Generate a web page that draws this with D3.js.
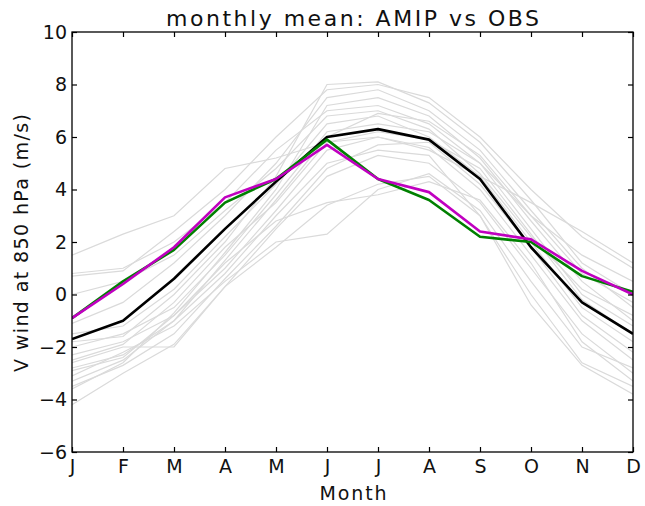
<!DOCTYPE html>
<html>
<head>
<meta charset="utf-8">
<script src="https://cdn.jsdelivr.net/npm/d3@7"></script>
<style>
  html, body { margin: 0; padding: 0; background: #fff; }
  svg { display: block; font-family: "DejaVu Sans", sans-serif; }
</style>
</head>
<body>
<svg id="chart" width="645" height="506"></svg>
<script>
// ---- data ----
const months = ["J","F","M","A","M","J","J","A","S","O","N","D"];
const yTicks = [-6,-4,-2,0,2,4,6,8,10];

const obs   = [-1.7, -1.0, 0.6, 2.5, 4.3, 6.0, 6.3, 5.9, 4.4, 1.8, -0.3, -1.5];
const amipA = [-0.9, 0.5, 1.7, 3.5, 4.4, 5.9, 4.4, 3.6, 2.2, 2.0, 0.7, 0.1];   // green
const amipB = [-0.9, 0.4, 1.8, 3.7, 4.4, 5.7, 4.4, 3.9, 2.4, 2.1, 0.9, 0.0];   // magenta

const model01 = [1.5, 2.3, 3.0, 4.8, 5.2, 5.8, 6.0, 5.5, 4.5, 3.5, 2.4, 1.2];
const model02 = [0.8, 1.0, 2.0, 3.5, 5.5, 7.0, 7.2, 6.5, 5.0, 3.0, 1.5, 0.5];
const model03 = [0.7, 0.9, 2.4, 4.0, 6.0, 7.8, 8.0, 7.5, 6.0, 4.0, 2.2, 1.0];
const model04 = [-1.1, -0.3, 1.2, 3.0, 5.0, 7.5, 7.8, 7.0, 5.5, 3.2, 1.0, -0.5];
const model05 = [-1.5, -1.2, 0.2, 2.2, 4.2, 6.5, 6.8, 6.0, 4.5, 2.0, -0.5, -1.8];
const model06 = [-2.0, -1.5, -0.5, 1.5, 3.8, 6.2, 6.5, 6.2, 5.0, 2.5, 0.0, -1.2];
const model07 = [-2.3, -1.8, -0.8, 1.0, 3.2, 5.5, 6.0, 5.6, 4.0, 1.5, -1.0, -2.5];
const model08 = [-2.6, -2.0, -2.0, 0.3, 2.5, 4.5, 5.3, 5.0, 3.5, 1.0, -1.5, -3.0];
const model09 = [-2.9, -2.4, -0.8, 1.2, 2.8, 3.5, 3.8, 4.3, 3.6, 1.2, -1.8, -3.3];
const model10 = [-3.1, -2.2, -1.2, 0.5, 2.0, 2.3, 4.0, 4.6, 3.2, 0.5, -2.0, -2.8];
const model11 = [-3.3, -2.5, -1.0, 0.8, 3.0, 5.0, 5.5, 5.3, 3.0, 0.0, -2.6, -3.5];
const model12 = [-3.5, -2.7, -1.5, 0.6, 2.6, 4.8, 5.7, 5.8, 4.2, 1.8, -0.8, -2.2];
const model13 = [-3.6, -2.6, -0.7, 1.6, 4.0, 7.2, 7.5, 6.8, 5.2, 2.8, 0.5, -1.0];
const model14 = [-4.2, -3.0, -1.9, 0.3, 1.8, 3.4, 4.2, 4.5, 3.0, -0.4, -2.7, -3.8];
const model15 = [-1.8, -1.6, 0.0, 2.0, 4.5, 8.0, 8.1, 7.3, 5.8, 3.6, 1.2, 0.0];
const model16 = [-2.5, -1.9, -0.3, 1.8, 3.5, 5.8, 6.2, 5.9, 4.8, 2.3, -0.2, -1.5];
const model17 = [0.0, 0.5, 1.5, 3.2, 4.8, 6.8, 7.0, 6.3, 4.6, 2.2, 0.2, -0.8];
const model18 = [-2.8, -2.3, -1.0, 1.3, 3.6, 6.0, 6.9, 6.6, 5.3, 3.0, 0.8, -0.3];

const models = [model01, model02, model03, model04, model05, model06, model07, model08, model09,
                model10, model11, model12, model13, model14, model15, model16, model17, model18];

// ---- layout ----
const svg = d3.select("#chart");
const L = 72, R = 633, T = 32, B = 452;

const x = d3.scaleLinear().domain([0, 11]).range([L, R]);
const y = d3.scaleLinear().domain([-6, 10]).range([B, T]);

const line = d3.line().x((d, i) => x(i)).y(d => y(d));

const plot = svg.append("g");
plot.append("defs").append("clipPath").attr("id", "clip")
  .append("rect").attr("x", L).attr("y", T).attr("width", R - L).attr("height", B - T);

const lines = plot.append("g").attr("clip-path", "url(#clip)");
models.forEach(m => {
  lines.append("path").attr("d", line(m)).attr("fill", "none")
    .attr("stroke", "#dadada").attr("stroke-width", 1.2);
});
lines.append("path").attr("d", line(obs)).attr("fill", "none")
  .attr("stroke", "#000").attr("stroke-width", 2.6).attr("stroke-linejoin", "round");
lines.append("path").attr("d", line(amipA)).attr("fill", "none")
  .attr("stroke", "#008000").attr("stroke-width", 2.6).attr("stroke-linejoin", "round");
lines.append("path").attr("d", line(amipB)).attr("fill", "none")
  .attr("stroke", "#c000c0").attr("stroke-width", 2.6).attr("stroke-linejoin", "round");

// ---- axes (ticks inward on all four sides) ----
const tickLen = 5;
const fmt = d => d < 0 ? "\u2212" + Math.abs(d) : String(d);

const xBottom = d3.axisBottom(x).tickValues(d3.range(12)).tickSize(-tickLen)
  .tickFormat((d) => months[d]).tickPadding(8);
const xTop = d3.axisTop(x).tickValues(d3.range(12)).tickSize(-tickLen).tickFormat("");
const yLeft = d3.axisLeft(y).tickValues(yTicks).tickSize(-tickLen).tickFormat(fmt).tickPadding(5);
const yRight = d3.axisRight(y).tickValues(yTicks).tickSize(-tickLen).tickFormat("");

function style(g) {
  g.select(".domain").remove();
  g.selectAll(".tick line").attr("stroke", "#000").attr("stroke-width", 1.2);
  g.selectAll(".tick text").attr("fill", "#111").attr("font-size", 19)
    .attr("font-family", "DejaVu Sans, sans-serif");
}
svg.append("g").attr("transform", `translate(0,${B})`).call(xBottom).call(style)
  .selectAll(".tick text").attr("dy", "0.68em");
svg.append("g").attr("transform", `translate(0,${T})`).call(xTop).call(style);
svg.append("g").attr("transform", `translate(${L},0)`).call(yLeft).call(style);
svg.append("g").attr("transform", `translate(${R},0)`).call(yRight).call(style);

// frame
svg.append("rect").attr("x", L).attr("y", T).attr("width", R - L).attr("height", B - T)
  .attr("fill", "none").attr("stroke", "#000").attr("stroke-width", 1.3);

// ---- titles ----
svg.append("text").attr("x", (L + R) / 2).attr("y", 26).attr("text-anchor", "middle")
  .attr("font-size", 22).attr("textLength", 373).attr("lengthAdjust", "spacing")
  .attr("fill", "#111").text("monthly mean: AMIP vs OBS");

svg.append("text").attr("x", 353).attr("y", 500).attr("text-anchor", "middle")
  .attr("font-size", 19).attr("textLength", 67).attr("lengthAdjust", "spacing")
  .attr("fill", "#111").text("Month");

svg.append("text").attr("transform", "translate(28,243) rotate(-90)").attr("text-anchor", "middle")
  .attr("font-size", 19).attr("textLength", 258).attr("lengthAdjust", "spacing")
  .attr("fill", "#111").text("V wind at 850 hPa (m/s)");
</script>
</body>
</html>
